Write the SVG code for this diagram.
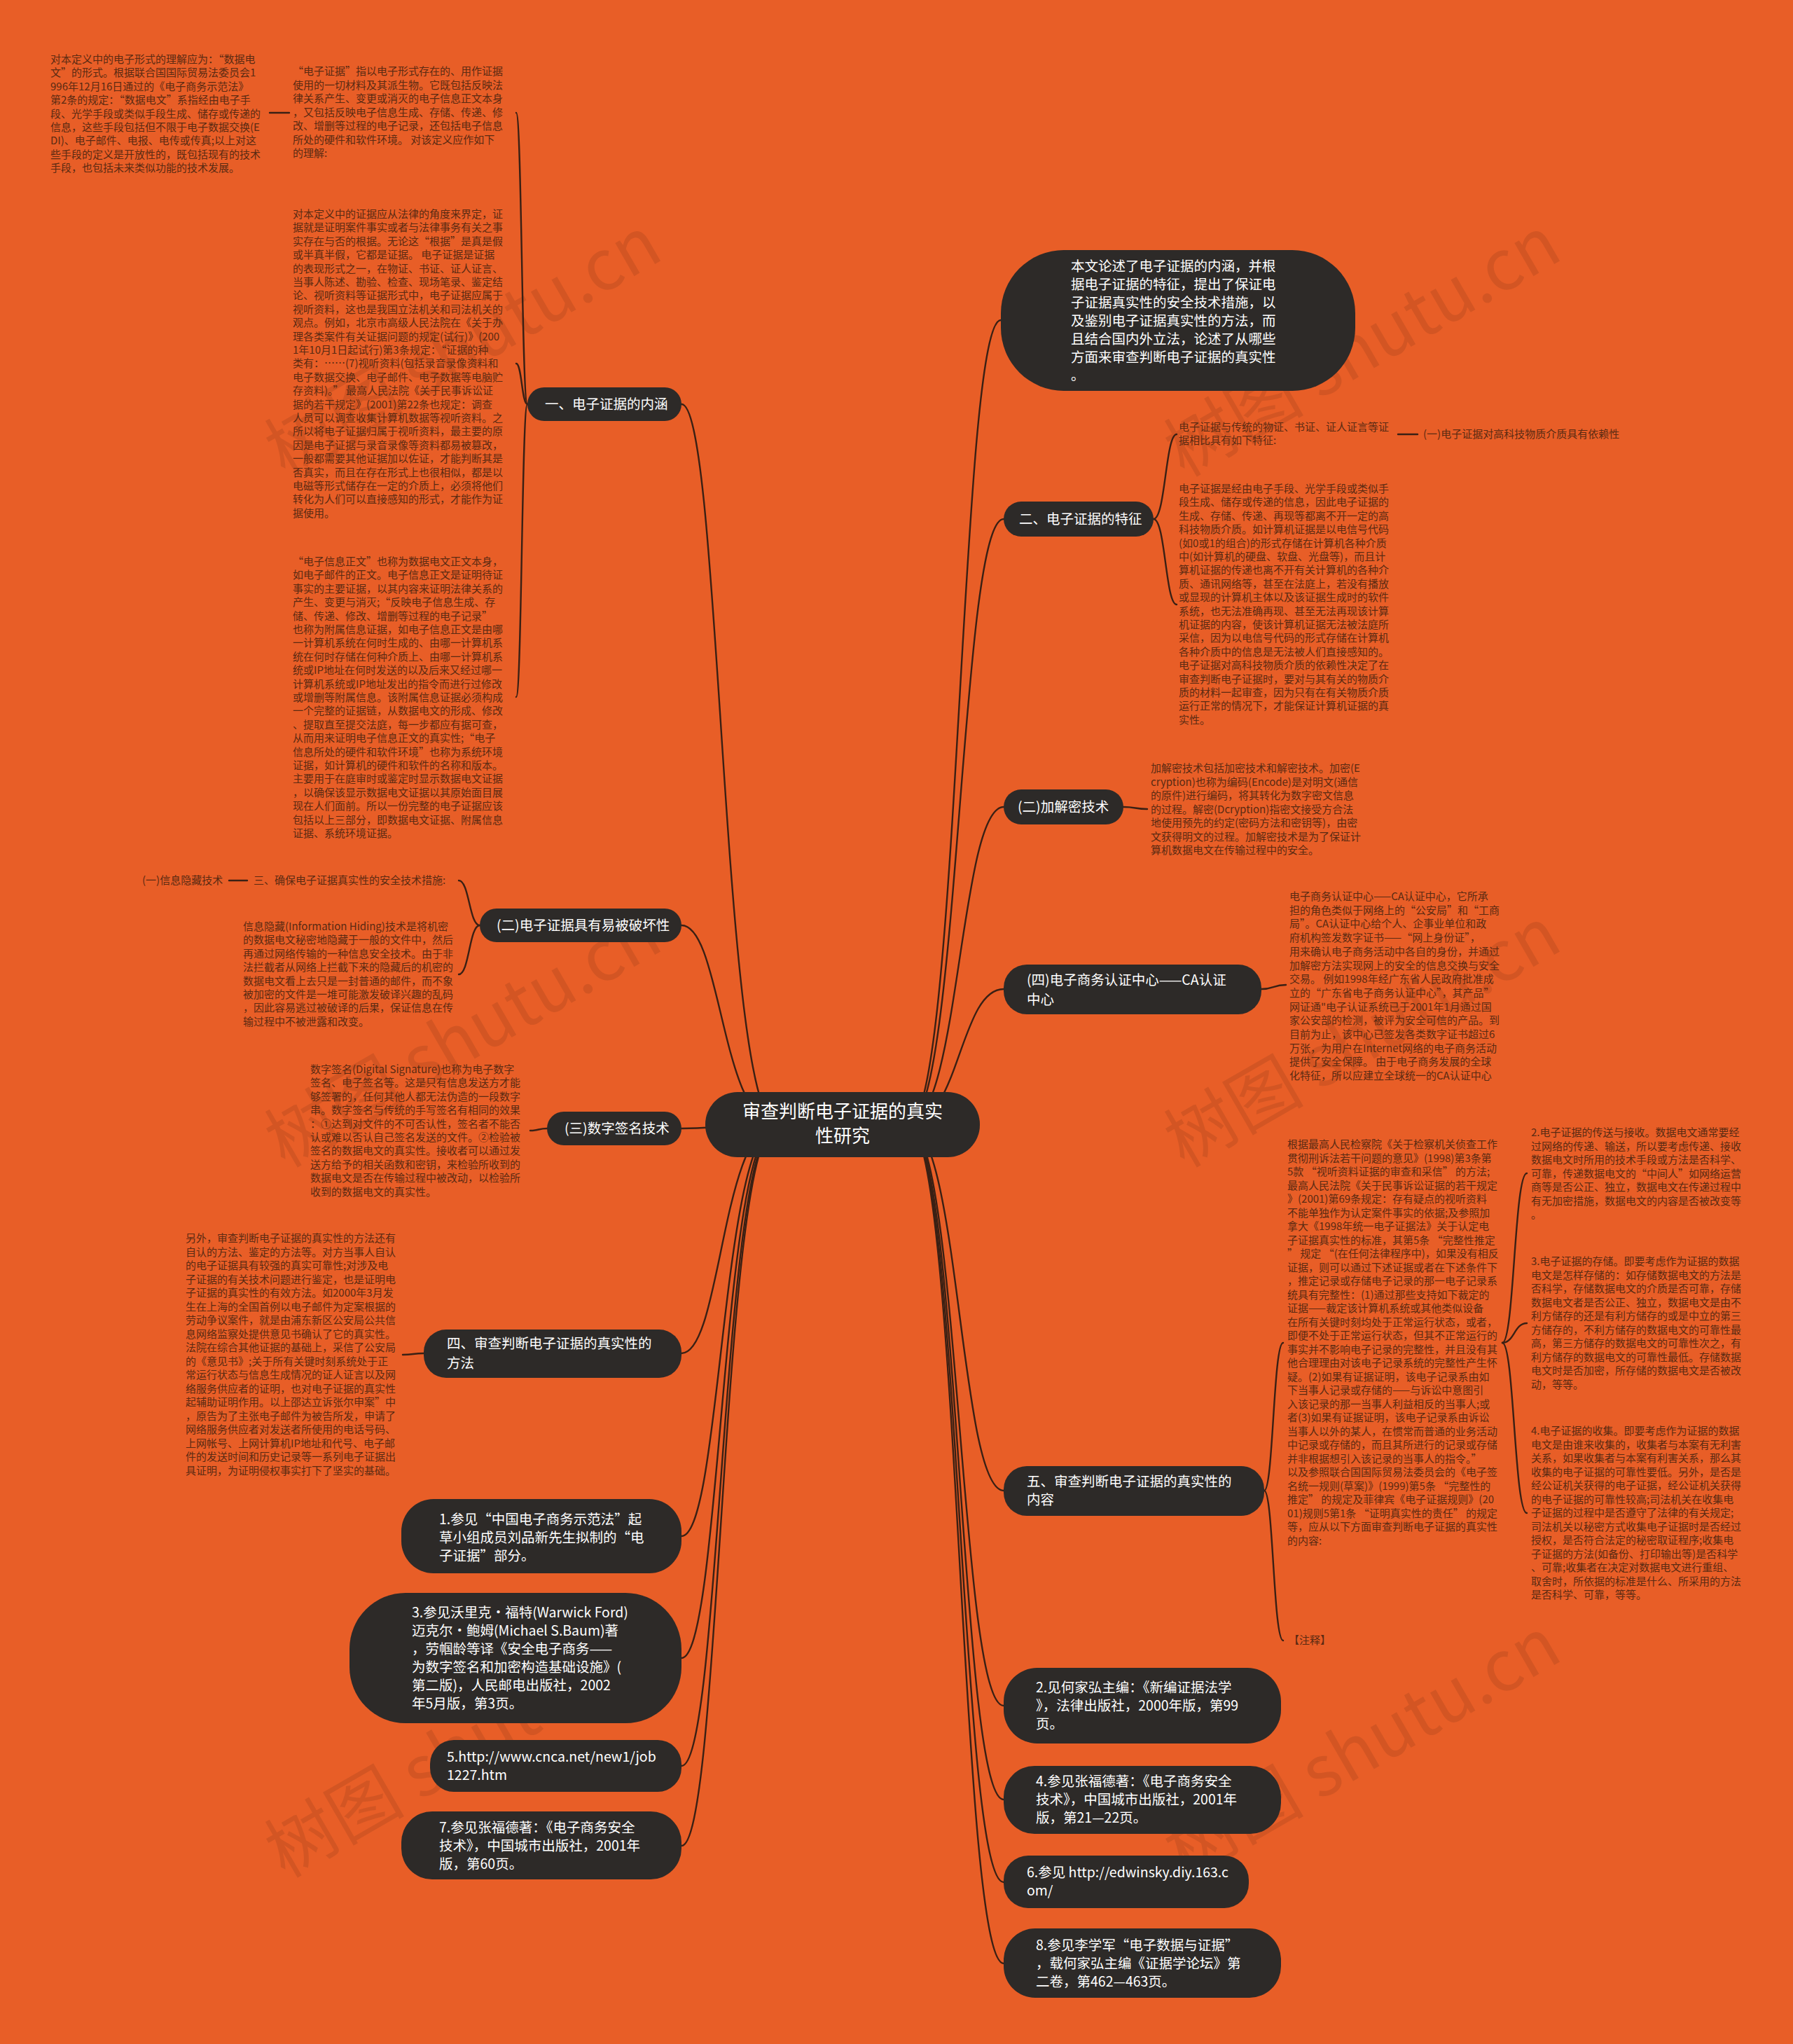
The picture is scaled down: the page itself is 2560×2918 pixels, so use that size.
<svg xmlns="http://www.w3.org/2000/svg" width="2560" height="2918" viewBox="0 0 2560 2918">
<style>
.bg{fill:#E85E27}
.nd{fill:#2D2A28}
.nt{font-family:"Noto Sans CJK SC","Noto Sans",sans-serif;font-size:19.5px;fill:#FFFFFF}
.ct{font-family:"Noto Sans CJK SC","Noto Sans",sans-serif;font-size:26px;fill:#FFFFFF}
.tx{font-family:"Noto Sans CJK SC","Noto Sans",sans-serif;font-size:15px;fill:#5A2A12}
.ln{fill:none;stroke:#3A2014;stroke-width:2.4;stroke-linecap:round}
.wm{font-family:"Noto Sans CJK SC","Noto Sans",sans-serif;font-size:100px;fill:#000000;fill-opacity:0.09}
</style>
<rect class="bg" x="0" y="0" width="2560" height="2918"/>
<g id="watermarks">
<text class="wm" x="660" y="530" text-anchor="middle" transform="rotate(-30 660 493)">树图 shutu.cn</text>
<text class="wm" x="1944" y="530" text-anchor="middle" transform="rotate(-30 1944 493)">树图 shutu.cn</text>
<text class="wm" x="660" y="1516" text-anchor="middle" transform="rotate(-30 660 1479)">树图 shutu.cn</text>
<text class="wm" x="1944" y="1516" text-anchor="middle" transform="rotate(-30 1944 1479)">树图 shutu.cn</text>
<text class="wm" x="660" y="2530" text-anchor="middle" transform="rotate(-30 660 2493)">树图 shutu.cn</text>
<text class="wm" x="1944" y="2530" text-anchor="middle" transform="rotate(-30 1944 2493)">树图 shutu.cn</text>
</g>
<g id="connectors">
<path class="ln" d="M1110 1605C1030 1605 1030 577 973 577"/>
<path class="ln" d="M1110 1605C1030 1605 1030 1321 973 1321"/>
<path class="ln" d="M1110 1605C1030 1605 1030 1611 973 1611"/>
<path class="ln" d="M1110 1605C1030 1605 1030 1932 973 1932"/>
<path class="ln" d="M1110 1605C1030 1605 1030 2193 973 2193"/>
<path class="ln" d="M1110 1605C1030 1605 1030 2367 973 2367"/>
<path class="ln" d="M1110 1605C1030 1605 1030 2521 973 2521"/>
<path class="ln" d="M1110 1605C1030 1605 1030 2635 973 2635"/>
<path class="ln" d="M1296 1605C1370 1605 1370 457 1429 457"/>
<path class="ln" d="M1296 1605C1370 1605 1370 741 1433 741"/>
<path class="ln" d="M1296 1605C1370 1605 1370 1152 1433 1152"/>
<path class="ln" d="M1296 1605C1370 1605 1370 1412 1433 1412"/>
<path class="ln" d="M1296 1605C1370 1605 1370 2128 1433 2128"/>
<path class="ln" d="M1296 1605C1370 1605 1370 2435 1433 2435"/>
<path class="ln" d="M1296 1605C1370 1605 1370 2569 1433 2569"/>
<path class="ln" d="M1296 1605C1370 1605 1370 2687 1433 2687"/>
<path class="ln" d="M1296 1605C1370 1605 1370 2803 1433 2803"/>
<path class="ln" d="M753 577C745 577 745 161 737 161"/>
<path class="ln" d="M753 577C745 577 745 519 737 519"/>
<path class="ln" d="M753 577C745 577 745 995 737 995"/>
<path class="ln" d="M385 161H413"/>
<path class="ln" d="M685 1321C670 1321 670 1257 655 1257"/>
<path class="ln" d="M685 1321C670 1321 670 1391 655 1391"/>
<path class="ln" d="M327 1257H353"/>
<path class="ln" d="M781 1611C769 1611 769 1614 757 1614"/>
<path class="ln" d="M605 1932C590 1932 590 1934 575 1934"/>
<path class="ln" d="M1647 741C1664 741 1664 620 1680 620"/>
<path class="ln" d="M1647 741C1664 741 1664 863 1680 863"/>
<path class="ln" d="M1996 620H2024"/>
<path class="ln" d="M1604 1152C1621 1152 1621 1155 1638 1155"/>
<path class="ln" d="M1801 1412C1818 1412 1818 1406 1836 1406"/>
<path class="ln" d="M1805 2128C1818 2128 1818 1917 1832 1917"/>
<path class="ln" d="M1805 2128C1818 2128 1818 2342 1832 2342"/>
<path class="ln" d="M2145 1917C2162 1917 2162 1675 2180 1675"/>
<path class="ln" d="M2145 1917C2162 1917 2162 1889 2180 1889"/>
<path class="ln" d="M2145 1917C2162 1917 2162 2160 2180 2160"/>
</g>
<g id="center">
<rect class="nd" x="1007" y="1559" width="392" height="93" rx="46"/>
<text class="ct" text-anchor="middle"><tspan x="1203" y="1596">审查判断电子证据的真实</tspan><tspan x="1203" y="1631">性研究</tspan></text>
</g>
<g id="L1">
<rect class="nd" x="753" y="553" width="220" height="48" rx="24"/>
<text class="nt" x="778" y="584">一、电子证据的内涵</text>
</g>
<g id="L2">
<rect class="nd" x="685" y="1297" width="288" height="48" rx="24"/>
<text class="nt" x="709" y="1328">(二)电子证据具有易被破坏性</text>
</g>
<g id="L3">
<rect class="nd" x="781" y="1587" width="192" height="48" rx="24"/>
<text class="nt" x="806" y="1618">(三)数字签名技术</text>
</g>
<g id="L4">
<rect class="nd" x="605" y="1898" width="368" height="69" rx="32"/>
<text class="nt"><tspan x="638" y="1925">四、审查判断电子证据的真实性的</tspan><tspan x="638" y="1953">方法</tspan></text>
</g>
<g id="L5">
<rect class="nd" x="573" y="2140" width="400" height="106" rx="46"/>
<text class="nt"><tspan x="627" y="2176">1.参见“中国电子商务示范法”起</tspan><tspan x="627" y="2202">草小组成员刘品新先生拟制的“电</tspan><tspan x="627" y="2228">子证据”部分。</tspan></text>
</g>
<g id="L6">
<rect class="nd" x="499" y="2274" width="474" height="186" rx="80"/>
<text class="nt"><tspan x="588" y="2309">3.参见沃里克•福特(Warwick Ford)</tspan><tspan x="588" y="2335">迈克尔•鲍姆(Michael S.Baum)著</tspan><tspan x="588" y="2361">，劳帼龄等译《安全电子商务——</tspan><tspan x="588" y="2387">为数字签名和加密构造基础设施》(</tspan><tspan x="588" y="2413">第二版)，人民邮电出版社，2002</tspan><tspan x="588" y="2439">年5月版，第3页。</tspan></text>
</g>
<g id="L7">
<rect class="nd" x="614" y="2484" width="359" height="74" rx="34"/>
<text class="nt"><tspan x="638" y="2515">5.http://www.cnca.net/new1/job</tspan><tspan x="638" y="2541">1227.htm</tspan></text>
</g>
<g id="L8">
<rect class="nd" x="573" y="2586" width="400" height="97" rx="44"/>
<text class="nt"><tspan x="627" y="2616">7.参见张福德著：《电子商务安全</tspan><tspan x="627" y="2642">技术》，中国城市出版社，2001年</tspan><tspan x="627" y="2668">版，第60页。</tspan></text>
</g>
<g id="R1">
<rect class="nd" x="1429" y="357" width="506" height="201" rx="90"/>
<text class="nt"><tspan x="1529" y="387">本文论述了电子证据的内涵，并根</tspan><tspan x="1529" y="413">据电子证据的特征，提出了保证电</tspan><tspan x="1529" y="439">子证据真实性的安全技术措施，以</tspan><tspan x="1529" y="465">及鉴别电子证据真实性的方法，而</tspan><tspan x="1529" y="491">且结合国内外立法，论述了从哪些</tspan><tspan x="1529" y="517">方面来审查判断电子证据的真实性</tspan><tspan x="1529" y="543">。</tspan></text>
</g>
<g id="R2">
<rect class="nd" x="1433" y="716" width="214" height="50" rx="25"/>
<text class="nt" x="1455" y="748">二、电子证据的特征</text>
</g>
<g id="R3">
<rect class="nd" x="1433" y="1127" width="171" height="50" rx="25"/>
<text class="nt" x="1453" y="1159">(二)加解密技术</text>
</g>
<g id="R4">
<rect class="nd" x="1433" y="1377" width="368" height="71" rx="33"/>
<text class="nt"><tspan x="1466" y="1406">(四)电子商务认证中心——CA认证</tspan><tspan x="1466" y="1434">中心</tspan></text>
</g>
<g id="R5">
<rect class="nd" x="1433" y="2093" width="372" height="71" rx="33"/>
<text class="nt"><tspan x="1466" y="2122">五、审查判断电子证据的真实性的</tspan><tspan x="1466" y="2148">内容</tspan></text>
</g>
<g id="R6">
<rect class="nd" x="1433" y="2381" width="396" height="108" rx="48"/>
<text class="nt"><tspan x="1479" y="2416">2.见何家弘主编：《新编证据法学</tspan><tspan x="1479" y="2442">》，法律出版社，2000年版，第99</tspan><tspan x="1479" y="2468">页。</tspan></text>
</g>
<g id="R7">
<rect class="nd" x="1433" y="2521" width="396" height="97" rx="44"/>
<text class="nt"><tspan x="1479" y="2550">4.参见张福德著：《电子商务安全</tspan><tspan x="1479" y="2576">技术》，中国城市出版社，2001年</tspan><tspan x="1479" y="2602">版，第21—22页。</tspan></text>
</g>
<g id="R8">
<rect class="nd" x="1433" y="2649" width="350" height="75" rx="35"/>
<text class="nt"><tspan x="1466" y="2680">6.参见 http://edwinsky.diy.163.c</tspan><tspan x="1466" y="2706">om/</tspan></text>
</g>
<g id="R9">
<rect class="nd" x="1433" y="2753" width="396" height="99" rx="45"/>
<text class="nt"><tspan x="1479" y="2784">8.参见李学军“电子数据与证据”</tspan><tspan x="1479" y="2810">，载何家弘主编《证据学论坛》第</tspan><tspan x="1479" y="2836">二卷，第462—463页。</tspan></text>
</g>
<g id="B1">
<text class="tx"><tspan x="72" y="90">对本定义中的电子形式的理解应为：“数据电</tspan><tspan x="72" y="109.4">文”的形式。根据联合国国际贸易法委员会1</tspan><tspan x="72" y="128.8">996年12月16日通过的《电子商务示范法》</tspan><tspan x="72" y="148.2">第2条的规定：“数据电文”系指经由电子手</tspan><tspan x="72" y="167.6">段、光学手段或类似手段生成、储存或传递的</tspan><tspan x="72" y="187">信息，这些手段包括但不限于电子数据交换(E</tspan><tspan x="72" y="206.4">DI)、电子邮件、电报、电传或传真;以上对这</tspan><tspan x="72" y="225.8">些手段的定义是开放性的，既包括现有的技术</tspan><tspan x="72" y="245.2">手段，也包括未来类似功能的技术发展。</tspan></text>
</g>
<g id="B2">
<text class="tx"><tspan x="418" y="107">“电子证据”指以电子形式存在的、用作证据</tspan><tspan x="418" y="126.5">使用的一切材料及其派生物。它既包括反映法</tspan><tspan x="418" y="146">律关系产生、变更或消灭的电子信息正文本身</tspan><tspan x="418" y="165.5">，又包括反映电子信息生成、存储、传递、修</tspan><tspan x="418" y="185">改、增删等过程的电子记录，还包括电子信息</tspan><tspan x="418" y="204.5">所处的硬件和软件环境。 对该定义应作如下</tspan><tspan x="418" y="224">的理解:</tspan></text>
</g>
<g id="B3">
<text class="tx"><tspan x="418" y="311">对本定义中的证据应从法律的角度来界定，证</tspan><tspan x="418" y="330.4">据就是证明案件事实或者与法律事务有关之事</tspan><tspan x="418" y="349.8">实存在与否的根据。无论这“根据”是真是假</tspan><tspan x="418" y="369.2">或半真半假，它都是证据。 电子证据是证据</tspan><tspan x="418" y="388.6">的表现形式之一，在物证、书证、证人证言、</tspan><tspan x="418" y="408">当事人陈述、勘验、检查、现场笔录、鉴定结</tspan><tspan x="418" y="427.4">论、视听资料等证据形式中，电子证据应属于</tspan><tspan x="418" y="446.8">视听资料，这也是我国立法机关和司法机关的</tspan><tspan x="418" y="466.2">观点。例如，北京市高级人民法院在《关于办</tspan><tspan x="418" y="485.6">理各类案件有关证据问题的规定(试行)》(200</tspan><tspan x="418" y="505">1年10月1日起试行)第3条规定：“证据的种</tspan><tspan x="418" y="524.4">类有：……(7)视听资料(包括录音录像资料和</tspan><tspan x="418" y="543.8">电子数据交换、电子邮件、电子数据等电脑贮</tspan><tspan x="418" y="563.2">存资料)。” 最高人民法院《关于民事诉讼证</tspan><tspan x="418" y="582.6">据的若干规定》(2001)第22条也规定：调查</tspan><tspan x="418" y="602">人员可以调查收集计算机数据等视听资料。之</tspan><tspan x="418" y="621.4">所以将电子证据归属于视听资料，最主要的原</tspan><tspan x="418" y="640.8">因是电子证据与录音录像等资料都易被篡改，</tspan><tspan x="418" y="660.2">一般都需要其他证据加以佐证，才能判断其是</tspan><tspan x="418" y="679.6">否真实，而且在存在形式上也很相似，都是以</tspan><tspan x="418" y="699">电磁等形式储存在一定的介质上，必须将他们</tspan><tspan x="418" y="718.4">转化为人们可以直接感知的形式，才能作为证</tspan><tspan x="418" y="737.8">据使用。</tspan></text>
</g>
<g id="B4">
<text class="tx"><tspan x="418" y="807">“电子信息正文”也称为数据电文正文本身，</tspan><tspan x="418" y="826.4">如电子邮件的正文。电子信息正文是证明待证</tspan><tspan x="418" y="845.8">事实的主要证据，以其内容来证明法律关系的</tspan><tspan x="418" y="865.2">产生、变更与消灭;“反映电子信息生成、存</tspan><tspan x="418" y="884.6">储、传递、修改、增删等过程的电子记录”</tspan><tspan x="418" y="904">也称为附属信息证据，如电子信息正文是由哪</tspan><tspan x="418" y="923.4">一计算机系统在何时生成的、由哪一计算机系</tspan><tspan x="418" y="942.8">统在何时存储在何种介质上、由哪一计算机系</tspan><tspan x="418" y="962.2">统或IP地址在何时发送的以及后来又经过哪一</tspan><tspan x="418" y="981.6">计算机系统或IP地址发出的指令而进行过修改</tspan><tspan x="418" y="1001">或增删等附属信息。该附属信息证据必须构成</tspan><tspan x="418" y="1020.4">一个完整的证据链，从数据电文的形成、修改</tspan><tspan x="418" y="1039.8">、提取直至提交法庭，每一步都应有据可查，</tspan><tspan x="418" y="1059.2">从而用来证明电子信息正文的真实性;“电子</tspan><tspan x="418" y="1078.6">信息所处的硬件和软件环境”也称为系统环境</tspan><tspan x="418" y="1098">证据，如计算机的硬件和软件的名称和版本。</tspan><tspan x="418" y="1117.4">主要用于在庭审时或鉴定时显示数据电文证据</tspan><tspan x="418" y="1136.8">，以确保该显示数据电文证据以其原始面目展</tspan><tspan x="418" y="1156.2">现在人们面前。所以一份完整的电子证据应该</tspan><tspan x="418" y="1175.6">包括以上三部分，即数据电文证据、附属信息</tspan><tspan x="418" y="1195">证据、系统环境证据。</tspan></text>
</g>
<g id="S3">
<text class="tx" x="362" y="1262">三、确保电子证据真实性的安全技术措施:</text>
</g>
<g id="S31">
<text class="tx" x="203" y="1262">(一)信息隐藏技术</text>
</g>
<g id="B5">
<text class="tx"><tspan x="347" y="1328">信息隐藏(Information Hiding)技术是将机密</tspan><tspan x="347" y="1347.4">的数据电文秘密地隐藏于一般的文件中，然后</tspan><tspan x="347" y="1366.8">再通过网络传输的一种信息安全技术。由于非</tspan><tspan x="347" y="1386.2">法拦截者从网络上拦截下来的隐藏后的机密的</tspan><tspan x="347" y="1405.6">数据电文看上去只是一封普通的邮件，而不象</tspan><tspan x="347" y="1425">被加密的文件是一堆可能激发破译兴趣的乱码</tspan><tspan x="347" y="1444.4">，因此容易逃过被破译的后果，保证信息在传</tspan><tspan x="347" y="1463.8">输过程中不被泄露和改变。</tspan></text>
</g>
<g id="B6">
<text class="tx"><tspan x="443" y="1532">数字签名(Digital Signature)也称为电子数字</tspan><tspan x="443" y="1551.4">签名、电子签名等。这是只有信息发送方才能</tspan><tspan x="443" y="1570.8">够签署的，任何其他人都无法伪造的一段数字</tspan><tspan x="443" y="1590.2">串。数字签名与传统的手写签名有相同的效果</tspan><tspan x="443" y="1609.6">：①达到对文件的不可否认性，签名者不能否</tspan><tspan x="443" y="1629">认或难以否认自己签名发送的文件。②检验被</tspan><tspan x="443" y="1648.4">签名的数据电文的真实性。接收者可以通过发</tspan><tspan x="443" y="1667.8">送方给予的相关函数和密钥，来检验所收到的</tspan><tspan x="443" y="1687.2">数据电文是否在传输过程中被改动，以检验所</tspan><tspan x="443" y="1706.6">收到的数据电文的真实性。</tspan></text>
</g>
<g id="B7">
<text class="tx"><tspan x="265" y="1773">另外，审查判断电子证据的真实性的方法还有</tspan><tspan x="265" y="1792.5">自认的方法、鉴定的方法等。对方当事人自认</tspan><tspan x="265" y="1812">的电子证据具有较强的真实可靠性;对涉及电</tspan><tspan x="265" y="1831.5">子证据的有关技术问题进行鉴定，也是证明电</tspan><tspan x="265" y="1851">子证据的真实性的有效方法。如2000年3月发</tspan><tspan x="265" y="1870.5">生在上海的全国首例以电子邮件为定案根据的</tspan><tspan x="265" y="1890">劳动争议案件，就是由浦东新区公安局公共信</tspan><tspan x="265" y="1909.5">息网络监察处提供意见书确认了它的真实性。</tspan><tspan x="265" y="1929">法院在综合其他证据的基础上，采信了公安局</tspan><tspan x="265" y="1948.5">的《意见书》;关于所有关键时刻系统处于正</tspan><tspan x="265" y="1968">常运行状态与信息生成情况的证人证言以及网</tspan><tspan x="265" y="1987.5">络服务供应者的证明，也对电子证据的真实性</tspan><tspan x="265" y="2007">起辅助证明作用。以上邵达立诉张尔申案”中</tspan><tspan x="265" y="2026.5">，原告为了主张电子邮件为被告所发，申请了</tspan><tspan x="265" y="2046">网络服务供应者对发送者所使用的电话号码、</tspan><tspan x="265" y="2065.5">上网帐号、上网计算机IP地址和代号、电子邮</tspan><tspan x="265" y="2085">件的发送时间和历史记录等一系列电子证据出</tspan><tspan x="265" y="2104.5">具证明，为证明侵权事实打下了坚实的基础。</tspan></text>
</g>
<g id="B8a">
<text class="tx"><tspan x="1683" y="615">电子证据与传统的物证、书证、证人证言等证</tspan><tspan x="1683" y="634.4">据相比具有如下特征:</tspan></text>
</g>
<g id="B8c">
<text class="tx" x="2032" y="625">(一)电子证据对高科技物质介质具有依赖性</text>
</g>
<g id="B8b">
<text class="tx"><tspan x="1683" y="703">电子证据是经由电子手段、光学手段或类似手</tspan><tspan x="1683" y="722.4">段生成、储存或传递的信息，因此电子证据的</tspan><tspan x="1683" y="741.8">生成、存储、传递、再现等都离不开一定的高</tspan><tspan x="1683" y="761.2">科技物质介质。如计算机证据是以电信号代码</tspan><tspan x="1683" y="780.6">(如0或1的组合)的形式存储在计算机各种介质</tspan><tspan x="1683" y="800">中(如计算机的硬盘、软盘、光盘等)，而且计</tspan><tspan x="1683" y="819.4">算机证据的传递也离不开有关计算机的各种介</tspan><tspan x="1683" y="838.8">质、通讯网络等，甚至在法庭上，若没有播放</tspan><tspan x="1683" y="858.2">或显现的计算机主体以及该证据生成时的软件</tspan><tspan x="1683" y="877.6">系统，也无法准确再现、甚至无法再现该计算</tspan><tspan x="1683" y="897">机证据的内容，使该计算机证据无法被法庭所</tspan><tspan x="1683" y="916.4">采信，因为以电信号代码的形式存储在计算机</tspan><tspan x="1683" y="935.8">各种介质中的信息是无法被人们直接感知的。</tspan><tspan x="1683" y="955.2">电子证据对高科技物质介质的依赖性决定了在</tspan><tspan x="1683" y="974.6">审查判断电子证据时，要对与其有关的物质介</tspan><tspan x="1683" y="994">质的材料一起审查，因为只有在有关物质介质</tspan><tspan x="1683" y="1013.4">运行正常的情况下，才能保证计算机证据的真</tspan><tspan x="1683" y="1032.8">实性。</tspan></text>
</g>
<g id="B9">
<text class="tx"><tspan x="1643" y="1102">加解密技术包括加密技术和解密技术。加密(E</tspan><tspan x="1643" y="1121.5">cryption)也称为编码(Encode)是对明文(通信</tspan><tspan x="1643" y="1141">的原件)进行编码，将其转化为数字密文信息</tspan><tspan x="1643" y="1160.5">的过程。解密(Dcryption)指密文接受方合法</tspan><tspan x="1643" y="1180">地使用预先的约定(密码方法和密钥等)，由密</tspan><tspan x="1643" y="1199.5">文获得明文的过程。加解密技术是为了保证计</tspan><tspan x="1643" y="1219">算机数据电文在传输过程中的安全。</tspan></text>
</g>
<g id="B10">
<text class="tx"><tspan x="1841" y="1285">电子商务认证中心——CA认证中心，它所承</tspan><tspan x="1841" y="1304.7">担的角色类似于网络上的“公安局”和“工商</tspan><tspan x="1841" y="1324.4">局”。CA认证中心给个人、企事业单位和政</tspan><tspan x="1841" y="1344.1">府机构签发数字证书——“网上身份证”，</tspan><tspan x="1841" y="1363.8">用来确认电子商务活动中各自的身份，并通过</tspan><tspan x="1841" y="1383.5">加解密方法实现网上的安全的信息交换与安全</tspan><tspan x="1841" y="1403.2">交易。 例如1998年经广东省人民政府批准成</tspan><tspan x="1841" y="1422.9">立的“广东省电子商务认证中心”，其产品”</tspan><tspan x="1841" y="1442.6">网证通"电子认证系统已于2001年1月通过国</tspan><tspan x="1841" y="1462.3">家公安部的检测，被评为安全可信的产品。到</tspan><tspan x="1841" y="1482">目前为止，该中心已签发各类数字证书超过6</tspan><tspan x="1841" y="1501.7">万张，为用户在Internet网络的电子商务活动</tspan><tspan x="1841" y="1521.4">提供了安全保障。 由于电子商务发展的全球</tspan><tspan x="1841" y="1541.1">化特征，所以应建立全球统一的CA认证中心</tspan></text>
</g>
<g id="B11">
<text class="tx"><tspan x="1838" y="1639">根据最高人民检察院《关于检察机关侦查工作</tspan><tspan x="1838" y="1658.5">贯彻刑诉法若干问题的意见》(1998)第3条第</tspan><tspan x="1838" y="1678">5款 “视听资料证据的审查和采信” 的方法;</tspan><tspan x="1838" y="1697.5">最高人民法院《关于民事诉讼证据的若干规定</tspan><tspan x="1838" y="1717">》(2001)第69条规定：存有疑点的视听资料</tspan><tspan x="1838" y="1736.5">不能单独作为认定案件事实的依据;及参照加</tspan><tspan x="1838" y="1756">拿大《1998年统一电子证据法》关于认定电</tspan><tspan x="1838" y="1775.5">子证据真实性的标准，其第5条 “完整性推定</tspan><tspan x="1838" y="1795">” 规定 “(在任何法律程序中)，如果没有相反</tspan><tspan x="1838" y="1814.5">证据，则可以通过下述证据或者在下述条件下</tspan><tspan x="1838" y="1834">，推定记录或存储电子记录的那一电子记录系</tspan><tspan x="1838" y="1853.5">统具有完整性：(1)通过那些支持如下裁定的</tspan><tspan x="1838" y="1873">证据——裁定该计算机系统或其他类似设备</tspan><tspan x="1838" y="1892.5">在所有关键时刻均处于正常运行状态，或者，</tspan><tspan x="1838" y="1912">即便不处于正常运行状态，但其不正常运行的</tspan><tspan x="1838" y="1931.5">事实并不影响电子记录的完整性，并且没有其</tspan><tspan x="1838" y="1951">他合理理由对该电子记录系统的完整性产生怀</tspan><tspan x="1838" y="1970.5">疑。(2)如果有证据证明，该电子记录系由如</tspan><tspan x="1838" y="1990">下当事人记录或存储的——与诉讼中意图引</tspan><tspan x="1838" y="2009.5">入该记录的那一当事人利益相反的当事人;或</tspan><tspan x="1838" y="2029">者(3)如果有证据证明，该电子记录系由诉讼</tspan><tspan x="1838" y="2048.5">当事人以外的某人，在惯常而普通的业务活动</tspan><tspan x="1838" y="2068">中记录或存储的，而且其所进行的记录或存储</tspan><tspan x="1838" y="2087.5">并非根据想引入该记录的当事人的指令。”</tspan><tspan x="1838" y="2107">以及参照联合国国际贸易法委员会的《电子签</tspan><tspan x="1838" y="2126.5">名统一规则(草案)》(1999)第5条 “完整性的</tspan><tspan x="1838" y="2146">推定” 的规定及菲律宾《电子证据规则》(20</tspan><tspan x="1838" y="2165.5">01)规则5第1条 “证明真实性的责任” 的规定</tspan><tspan x="1838" y="2185">等，应从以下方面审查判断电子证据的真实性</tspan><tspan x="1838" y="2204.5">的内容:</tspan></text>
</g>
<g id="B11n">
<text class="tx" x="1840" y="2347">【注释】</text>
</g>
<g id="B12a">
<text class="tx"><tspan x="2186" y="1622">2.电子证据的传送与接收。数据电文通常要经</tspan><tspan x="2186" y="1641.5">过网络的传递、输送，所以要考虑传递、接收</tspan><tspan x="2186" y="1661">数据电文时所用的技术手段或方法是否科学、</tspan><tspan x="2186" y="1680.5">可靠，传递数据电文的“中间人”如网络运营</tspan><tspan x="2186" y="1700">商等是否公正、独立，数据电文在传递过程中</tspan><tspan x="2186" y="1719.5">有无加密措施，数据电文的内容是否被改变等</tspan><tspan x="2186" y="1739">。</tspan></text>
</g>
<g id="B12b">
<text class="tx"><tspan x="2186" y="1806">3.电子证据的存储。即要考虑作为证据的数据</tspan><tspan x="2186" y="1825.5">电文是怎样存储的：如存储数据电文的方法是</tspan><tspan x="2186" y="1845">否科学，存储数据电文的介质是否可靠，存储</tspan><tspan x="2186" y="1864.5">数据电文者是否公正、独立，数据电文是由不</tspan><tspan x="2186" y="1884">利方储存的还是有利方储存的或是中立的第三</tspan><tspan x="2186" y="1903.5">方储存的，不利方储存的数据电文的可靠性最</tspan><tspan x="2186" y="1923">高，第三方储存的数据电文的可靠性次之，有</tspan><tspan x="2186" y="1942.5">利方储存的数据电文的可靠性最低。存储数据</tspan><tspan x="2186" y="1962">电文时是否加密，所存储的数据电文是否被改</tspan><tspan x="2186" y="1981.5">动，等等。</tspan></text>
</g>
<g id="B12c">
<text class="tx"><tspan x="2186" y="2048">4.电子证据的收集。即要考虑作为证据的数据</tspan><tspan x="2186" y="2067.5">电文是由谁来收集的，收集者与本案有无利害</tspan><tspan x="2186" y="2087">关系，如果收集者与本案有利害关系，那么其</tspan><tspan x="2186" y="2106.5">收集的电子证据的可靠性要低。另外，是否是</tspan><tspan x="2186" y="2126">经公证机关获得的电子证据，经公证机关获得</tspan><tspan x="2186" y="2145.5">的电子证据的可靠性较高;司法机关在收集电</tspan><tspan x="2186" y="2165">子证据的过程中是否遵守了法律的有关规定;</tspan><tspan x="2186" y="2184.5">司法机关以秘密方式收集电子证据时是否经过</tspan><tspan x="2186" y="2204">授权，是否符合法定的秘密取证程序;收集电</tspan><tspan x="2186" y="2223.5">子证据的方法(如备份、打印输出等)是否科学</tspan><tspan x="2186" y="2243">、可靠;收集者在决定对数据电文进行重组、</tspan><tspan x="2186" y="2262.5">取舍时，所依据的标准是什么、所采用的方法</tspan><tspan x="2186" y="2282">是否科学、可靠，等等。</tspan></text>
</g>
</svg>
